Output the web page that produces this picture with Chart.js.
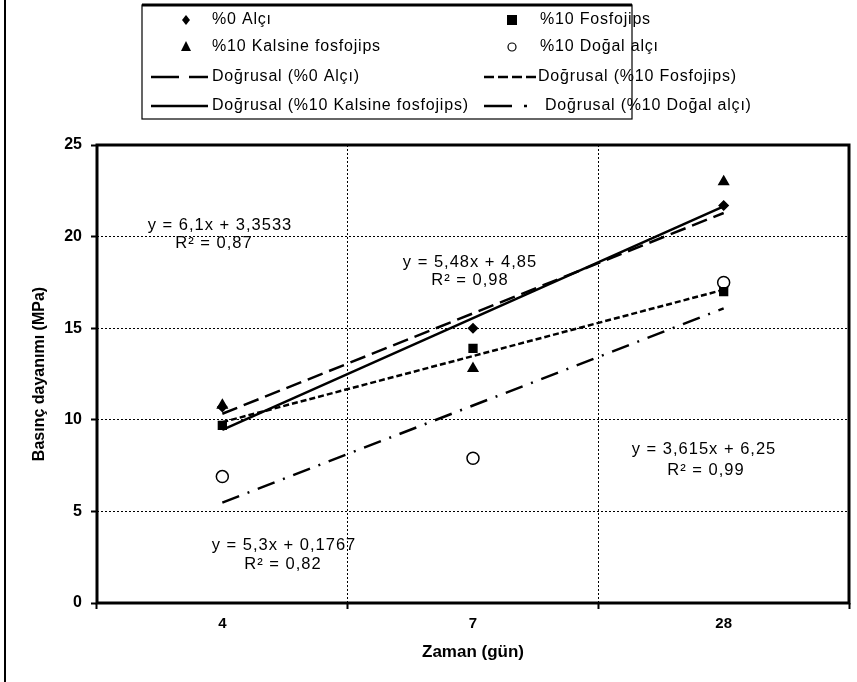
<!DOCTYPE html>
<html>
<head>
    <meta charset="UTF-8">
    <title>Basınç dayanımı</title>
    <style>
        body { margin: 0; background: #fff; }
        #wrap { position: relative; width: 857px; height: 682px; }
        #frame { position: absolute; left: 4px; top: 0; width: 2px; height: 682px; background: #000; }
    </style>
</head>
<body>
    <div id="wrap">
        <canvas id="myChart" width="857" height="682"></canvas>
        <div id="frame"></div>
    </div>

    <script src="https://cdn.jsdelivr.net/npm/chart.js@4.4.1/dist/chart.umd.min.js"></script>
    <script>
        // categories (gün)
        var days = ['4', '7', '28'];

        // measured values
        var alci0 = [10.7, 15.0, 21.7];
        var fosfo10 = [9.7, 13.9, 17.0];
        var kalsine10 = [10.8, 12.8, 23.0];
        var dogal10 = [6.9, 7.9, 17.5];

        // linear trend lines (Doğrusal)
        var trendAlci0 = [10.33, 15.81, 21.29];
        var trendFosfo10 = [9.87, 13.48, 17.10];
        var trendKalsine10 = [9.45, 15.55, 21.65];
        var trendDogal10 = [5.48, 10.78, 16.08];

        var yTicks = [0, 5, 10, 15, 20, 25];

        var eqLabels = [
            ['y = 6,1x + 3,3533', 'R² = 0,87'],
            ['y = 5,48x + 4,85', 'R² = 0,98'],
            ['y = 3,615x + 6,25', 'R² = 0,99'],
            ['y = 5,3x + 0,1767', 'R² = 0,82']
        ];

        var FONT = '"Liberation Sans", Arial, sans-serif';
        var DASH_LONG = [16, 7];
        var DASH_SHORT = [6, 3];
        var DASH_DOT = [18, 9, 2, 9];

        function trend(label, data, dash) {
            return {
                type: 'line', label: label, data: data,
                borderColor: '#000', borderWidth: 2.5, borderDash: dash,
                pointRadius: 0, fill: false, order: 2
            };
        }
        function marks(label, data, style, radius, fill) {
            return {
                type: 'line', label: label, data: data, showLine: false,
                pointStyle: style, pointRadius: radius,
                pointBackgroundColor: fill, pointBorderColor: '#000',
                pointBorderWidth: 1.5, order: 1
            };
        }

        var eqPlugin = {
            id: 'extras',
            afterDraw: function(chart) {
                var ctx = chart.ctx, a = chart.chartArea;
                ctx.save();
                // equation labels
                ctx.fillStyle = '#000';
                ctx.font = '16.5px ' + FONT;
                ctx.letterSpacing = '1px';
                ctx.textAlign = 'center';
                ctx.textBaseline = 'middle';
                var pos = [[220, 225, 214, 243], [470, 262, 470, 280], [704, 449, 706, 470], [284, 545, 283, 564]];
                eqLabels.forEach(function(l, i) {
                    ctx.fillText(l[0], pos[i][0], pos[i][1]);
                    ctx.fillText(l[1], pos[i][2], pos[i][3]);
                });
                // plot border
                ctx.strokeStyle = '#000';
                ctx.lineWidth = 3;
                ctx.strokeRect(a.left, a.top, a.right - a.left, a.bottom - a.top);

                // legend box
                ctx.fillStyle = '#fff';
                ctx.fillRect(142, 5, 490, 114);
                ctx.lineWidth = 1.2;
                ctx.strokeRect(142, 5, 490, 114);
                ctx.lineWidth = 3;
                ctx.beginPath(); ctx.moveTo(142, 5); ctx.lineTo(632, 5); ctx.stroke();

                ctx.fillStyle = '#000';
                ctx.font = '16px ' + FONT;
                ctx.letterSpacing = '0.8px';
                ctx.textAlign = 'left';
                ctx.textBaseline = 'middle';
                // symbols
                ctx.beginPath(); // diamond
                ctx.moveTo(186, 15); ctx.lineTo(190, 20); ctx.lineTo(186, 25); ctx.lineTo(182, 20); ctx.closePath(); ctx.fill();
                ctx.fillRect(507, 15, 10, 10); // square
                ctx.beginPath(); // triangle
                ctx.moveTo(186, 41); ctx.lineTo(191, 51); ctx.lineTo(181, 51); ctx.closePath(); ctx.fill();
                ctx.lineWidth = 1.2;
                ctx.beginPath(); ctx.arc(512, 47, 4, 0, Math.PI * 2); ctx.stroke();

                ctx.fillText(chart.data.datasets[4].label, 212, 20);
                ctx.fillText(chart.data.datasets[5].label, 540, 20);
                ctx.fillText(chart.data.datasets[6].label, 212, 47);
                ctx.fillText(chart.data.datasets[7].label, 540, 47);

                // line samples
                ctx.lineWidth = 2.5;
                function sample(x1, x2, y, dash) {
                    ctx.setLineDash(dash);
                    ctx.beginPath(); ctx.moveTo(x1, y); ctx.lineTo(x2, y); ctx.stroke();
                }
                sample(151, 208, 77, [28, 10, 20, 10]);
                sample(151, 208, 106, []);
                sample(484, 537, 77, [10, 4]);
                sample(484, 540, 106, [28, 12, 3, 40]);
                ctx.setLineDash([]);
                ctx.fillText(chart.data.datasets[0].label, 212, 77);
                ctx.fillText(chart.data.datasets[1].label, 538, 77);
                ctx.fillText(chart.data.datasets[2].label, 212, 106);
                ctx.fillText(chart.data.datasets[3].label, 545, 106);
                ctx.restore();
            }
        };

        var myChart = new Chart('myChart', {
            type: 'line',
            data: {
                labels: days,
                datasets: [
                    trend('Doğrusal (%0 Alçı)', trendAlci0, DASH_LONG),
                    trend('Doğrusal (%10 Fosfojips)', trendFosfo10, DASH_SHORT),
                    trend('Doğrusal (%10 Kalsine fosfojips)', trendKalsine10, []),
                    trend('Doğrusal (%10 Doğal alçı)', trendDogal10, DASH_DOT),
                    marks('%0 Alçı', alci0, 'rectRot', 4.5, '#000'),
                    marks('%10 Fosfojips', fosfo10, 'rect', 5.5, '#000'),
                    marks('%10 Kalsine fosfojips', kalsine10, 'triangle', 5.5, '#000'),
                    marks('%10 Doğal alçı', dogal10, 'circle', 6, '#fff')
                ]
            },
            options: {
                responsive: false,
                animation: false,
                layout: { padding: { left: 0, right: 8, top: 145, bottom: 0 } },
                plugins: { legend: { display: false }, tooltip: { enabled: false } },
                scales: {
                    x: {
                        offset: true,
                        grid: {
                            offset: true, color: '#000', lineWidth: 1,
                            tickBorderDash: [], tickLength: 6, tickWidth: 2, tickColor: '#000'
                        },
                        border: { display: false, dash: [2, 2] },
                        ticks: { color: '#000', font: { family: FONT, size: 15, weight: 'bold' }, padding: 6 },
                        title: { display: true, text: 'Zaman (gün)', color: '#000', font: { family: FONT, size: 17, weight: 'bold' }, padding: { top: 0, bottom: 19 } },
                        afterFit: function(s) { s.height = 79; }
                    },
                    y: {
                        min: 0, max: 25,
                        afterBuildTicks: function(s) { s.ticks = yTicks.map(function(v) { return { value: v }; }); },
                        grid: {
                            color: '#000', lineWidth: 1,
                            tickBorderDash: [], tickLength: 6, tickWidth: 2, tickColor: '#000'
                        },
                        border: { display: false, dash: [2, 2] },
                        ticks: { color: '#000', font: { family: FONT, size: 16, weight: 'bold' }, padding: 9 },
                        title: { display: true, text: 'Basınç dayanımı (MPa)', color: '#000', font: { family: FONT, size: 16, weight: 'bold' }, padding: { top: 30, bottom: 0 } },
                        afterFit: function(s) { s.width = 97; }
                    }
                }
            },
            plugins: [eqPlugin]
        });
    </script>
</body>
</html>
